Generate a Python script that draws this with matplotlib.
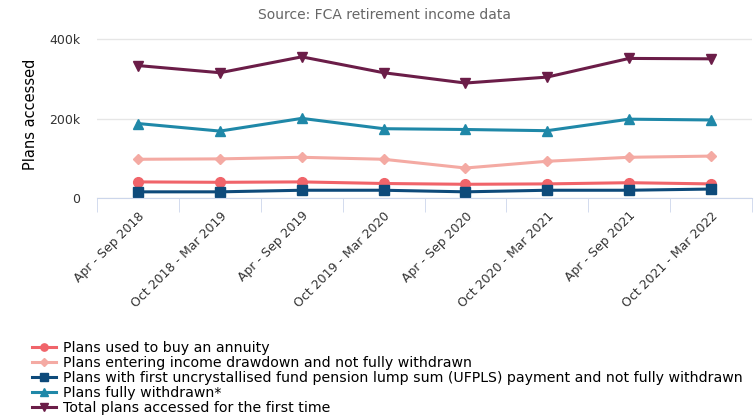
import numpy as np
import matplotlib.pyplot as plt
from matplotlib.ticker import FuncFormatter

periods = ["Apr - Sep 2018", "Oct 2018 - Mar 2019", "Apr - Sep 2019", "Oct 2019 - Mar 2020",
           "Apr - Sep 2020", "Oct 2020 - Mar 2021", "Apr - Sep 2021", "Oct 2021 - Mar 2022"]
annuity = [41000, 40000, 41000, 37000, 35000, 36000, 39000, 36000]
drawdown = [98000, 99000, 103000, 98000, 76000, 93000, 103000, 106000]
ufpls = [16000, 16000, 20000, 20000, 16000, 20000, 20000, 23000]
withdrawn = [188000, 169000, 201000, 175000, 173000, 170000, 199000, 197000]
total = [334000, 316000, 356000, 316000, 290000, 305000, 352000, 351000]

labels = ["Plans used to buy an annuity",
          "Plans entering income drawdown and not fully withdrawn",
          "Plans with first uncrystallised fund pension lump sum (UFPLS) payment and not fully withdrawn",
          "Plans fully withdrawn*",
          "Total plans accessed for the first time"]

fig = plt.figure(figsize=(7.54, 4.19), dpi=100)
ax = fig.add_axes([0.129, 0.527, 0.868, 0.398])
x = np.arange(len(periods))

ax.plot(x, annuity, color="#f0646a", marker="o", ms=7, lw=2.2, label=labels[0])
ax.plot(x, drawdown, color="#f4aaa3", marker="D", ms=5.5, lw=2.2, label=labels[1])
ax.plot(x, ufpls, color="#0d4a7a", marker="s", ms=7, lw=2.2, label=labels[2])
ax.plot(x, withdrawn, color="#1f88a8", marker="^", ms=7, lw=2.2, label=labels[3])
ax.plot(x, total, color="#6b1d48", marker="v", ms=7, lw=2.2, label=labels[4])

ax.set_xlim(-0.5, len(periods) - 0.5)
ax.set_ylim(0, 420000)
ax.set_yticks([0, 200000, 400000])
ax.yaxis.set_major_formatter(FuncFormatter(lambda v, p: "0" if v == 0 else "%dk" % (v / 1000)))
ax.grid(axis="y", color="#e6e6e6", lw=1)
ax.set_axisbelow(True)
for s in ["top", "right", "left"]:
    ax.spines[s].set_visible(False)
ax.spines["bottom"].set_color("#ccd6eb")
ax.tick_params(axis="y", length=0, labelsize=9, labelcolor="#333333", pad=12)

ax.set_xticks(x)
ax.set_xticklabels(periods, rotation=45, ha="right", rotation_mode="anchor", fontsize=9, color="#333333")
ax.tick_params(axis="x", which="major", length=0, pad=8)
ax.set_xticks(np.arange(-0.5, len(periods)), minor=True)
ax.tick_params(axis="x", which="minor", length=10, color="#ccd6eb")

ax.set_ylabel("Plans accessed", fontsize=10.5, labelpad=8)
fig.text(0.51, 0.965, "Source: FCA retirement income data", ha="center", va="center", fontsize=10, color="#666666")

fig.legend(loc="lower left", bbox_to_anchor=(0.035, -0.005), frameon=False, fontsize=10.2,
           handlelength=1.7, labelspacing=0.08, handletextpad=0.5, borderaxespad=0, markerscale=0.75)

fig.savefig("out.png", dpi=100)
